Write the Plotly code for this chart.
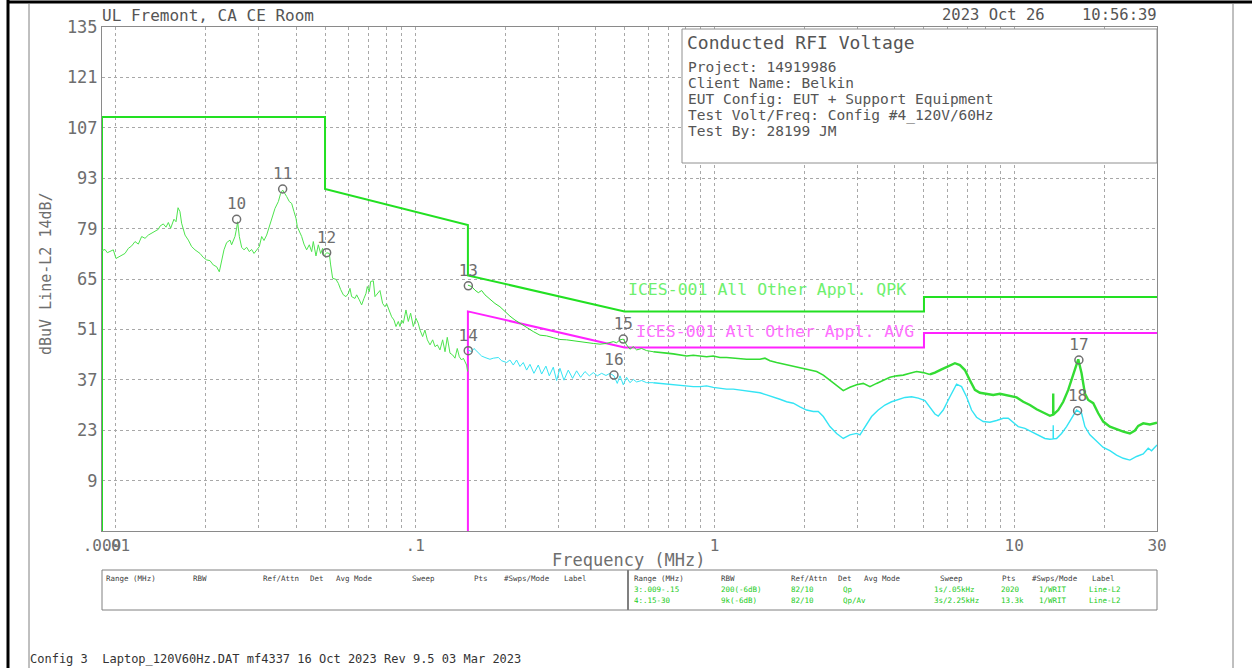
import plotly.graph_objects as go

# ------------------------------------------------------------------ data
# Range 3 scan, 0.009 - 0.15 MHz  (freq MHz, level dBuV)
range3_scan = [
    (0.009, 72.9), (0.00921, 73.2), (0.009376, 72.3), (0.009571, 72.6), (0.009818, 73.1),
    (0.010022, 70.7), (0.010335, 71.4), (0.01074, 72.1), (0.01102, 73.5), (0.01131, 74.2),
    (0.0116, 75.4), (0.0119, 74.7), (0.01221, 76.8), (0.01253, 76.3), (0.01285, 77.2),
    (0.01318, 77.7), (0.01353, 78.2), (0.01388, 78.8), (0.01406, 79.7), (0.01442, 80.3),
    (0.01472, 79.4), (0.01499, 80.7), (0.01526, 79.1), (0.01565, 81.6), (0.0159, 80.9),
    (0.01615, 84.8), (0.01639, 83.7), (0.0166, 80.5), (0.01704, 77.2), (0.01748, 75.8),
    (0.01793, 74.0), (0.0184, 73.1), (0.01912, 72.1), (0.01961, 71.0), (0.02012, 70.3),
    (0.02064, 70.1), (0.02118, 68.9), (0.02173, 68.4), (0.02218, 67.0), (0.02258, 69.8),
    (0.02299, 73.1), (0.02346, 75.1), (0.02408, 75.8), (0.02438, 74.5), (0.0247, 75.7),
    (0.02502, 76.8), (0.02534, 79.1), (0.02554, 80.9), (0.02587, 76.8), (0.02634, 73.8),
    (0.02681, 73.1), (0.02737, 73.8), (0.02794, 72.6), (0.02844, 73.2), (0.02896, 72.1),
    (0.02956, 72.9), (0.03017, 74.0), (0.03072, 76.8), (0.03127, 75.7), (0.03192, 77.2),
    (0.03258, 79.5), (0.03343, 82.3), (0.03403, 84.6), (0.03492, 86.5), (0.03555, 88.8),
    (0.0361, 89.7), (0.03675, 88.8), (0.03723, 87.9), (0.038, 86.5), (0.03869, 86.0),
    (0.03939, 83.7), (0.03999, 81.9), (0.04041, 79.5), (0.04104, 78.4), (0.04178, 76.8),
    (0.04253, 74.7), (0.04341, 73.1), (0.04431, 74.5), (0.04512, 72.6), (0.04569, 75.4),
    (0.04664, 71.4), (0.04748, 74.5), (0.04834, 72.1), (0.04909, 73.5), (0.04959, 71.4),
    (0.05062, 72.3), (0.05167, 72.1), (0.05221, 68.9), (0.05302, 65.2), (0.05439, 64.9),
    (0.05538, 63.8), (0.05638, 62.1), (0.05755, 60.6), (0.05874, 60.1), (0.05981, 61.0),
    (0.06057, 62.4), (0.06135, 60.1), (0.06294, 59.6), (0.06376, 60.6), (0.06508, 59.2),
    (0.06626, 57.8), (0.06746, 59.6), (0.06851, 61.0), (0.06921, 62.9), (0.07028, 61.5),
    (0.07102, 64.3), (0.07249, 64.5), (0.07341, 60.1), (0.07474, 61.0), (0.07629, 61.8),
    (0.07787, 58.2), (0.07928, 57.3), (0.08031, 58.1), (0.08197, 56.4), (0.08346, 54.5),
    (0.08497, 53.6), (0.08627, 51.8), (0.08783, 53.2), (0.08897, 51.8), (0.09013, 53.6),
    (0.09127, 52.7), (0.09316, 56.4), (0.09485, 53.2), (0.09657, 55.5), (0.09857, 51.8),
    (0.1006, 54.1), (0.1024, 52.7), (0.1038, 50.8), (0.1059, 49.0), (0.1078, 50.8),
    (0.1098, 48.1), (0.1121, 46.7), (0.1144, 48.1), (0.1165, 46.2), (0.1186, 46.7),
    (0.121, 45.3), (0.1235, 48.1), (0.1258, 44.8), (0.128, 48.8), (0.1307, 44.4),
    (0.1334, 43.9), (0.1358, 43.0), (0.1382, 45.7), (0.1404, 43.4), (0.1429, 42.5),
    (0.1448, 43.0), (0.1466, 42.0), (0.1485, 41.1), (0.1497, 39.3),
]

# Range 4 quasi-peak scan, 0.15 - 30 MHz
range4_qp = [
    (0.15, 63.3), (0.1544, 62.9), (0.1584, 61.9), (0.1625, 61.2), (0.1667, 61.8),
    (0.171, 60.6), (0.1777, 59.4), (0.1847, 58.2), (0.1919, 57.3), (0.1994, 55.9),
    (0.2072, 54.7), (0.2154, 53.6), (0.2238, 52.7), (0.2356, 51.6), (0.2479, 50.4),
    (0.261, 49.4), (0.2747, 49.2), (0.2892, 48.7), (0.3044, 48.2), (0.3204, 48.1),
    (0.3372, 47.8), (0.355, 47.6), (0.3738, 47.3), (0.3934, 47.1), (0.4141, 46.9),
    (0.4358, 47.1), (0.4587, 47.6), (0.4706, 47.3), (0.4829, 48.1), (0.4954, 48.3),
    (0.5082, 46.7), (0.5214, 45.5), (0.535, 46.2), (0.5488, 45.3), (0.5703, 45.7),
    (0.5927, 45.1), (0.6239, 44.8), (0.6566, 44.5), (0.6911, 44.4), (0.7275, 44.2),
    (0.7657, 43.9), (0.806, 43.6), (0.8484, 43.8), (0.8931, 43.6), (0.9401, 43.4),
    (0.9895, 43.6), (1.0415, 43.2), (1.0963, 43.2), (1.154, 43.0), (1.2146, 43.0),
    (1.2785, 42.7), (1.3458, 42.7), (1.4166, 42.7), (1.472, 43.0), (1.53, 42.3),
    (1.61, 41.8), (1.6947, 41.4), (1.7847, 41.1), (1.8783, 40.7), (1.9773, 40.2),
    (2.0808, 39.7), (2.1906, 39.3), (2.3058, 38.3), (2.4264, 36.9), (2.5542, 35.3),
    (2.6883, 34.0), (2.8296, 34.9), (2.979, 35.6), (3.1356, 36.0), (3.3003, 35.1),
    (3.4731, 36.0), (3.6558, 36.9), (3.8484, 37.7), (4.0509, 38.1), (4.2642, 38.3),
    (4.4883, 38.8), (4.7241, 39.3), (4.9725, 39.0), (5.2346, 38.5), (5.4392, 39.0),
    (5.725, 39.9), (6.0264, 40.8), (6.3423, 41.6), (6.5907, 41.1), (6.849, 39.7),
    (7.1172, 36.9), (7.3962, 34.2), (7.686, 33.4), (8.0901, 33.1), (8.5167, 32.8),
    (8.9658, 33.1), (9.3168, 32.8), (9.6822, 32.5), (10.191, 32.1), (10.726, 30.9),
    (11.291, 30.0), (11.885, 28.8), (12.509, 27.9), (13.167, 27.0), (13.5, 27.3),
    (13.509, 33.2), (13.52, 27.3), (14.038, 28.6), (14.588, 30.9), (15.16, 34.2),
    (15.754, 38.3), (16.371, 42.7), (16.797, 38.8), (17.233, 33.2), (17.681, 31.4),
    (18.374, 30.5), (19.094, 27.7), (19.841, 25.4), (20.885, 24.0), (21.983, 23.2),
    (23.14, 22.6), (24.357, 22.1), (25.312, 22.9), (25.969, 24.2), (26.987, 24.9),
    (28.403, 24.6), (30.0, 25.1),
]

# Range 4 average scan, 0.15 - 30 MHz
range4_av = [
    (0.15, 45.3), (0.1544, 44.8), (0.1572, 45.7), (0.1625, 44.4), (0.1667, 43.6),
    (0.171, 43.2), (0.1777, 42.7), (0.1823, 43.0), (0.1895, 43.2), (0.1944, 42.3),
    (0.202, 41.8), (0.2072, 42.5), (0.2126, 41.1), (0.2181, 42.5), (0.2238, 40.7),
    (0.2296, 41.8), (0.2356, 39.7), (0.2417, 41.3), (0.2492, 38.8), (0.2577, 41.1),
    (0.2644, 38.6), (0.2733, 40.8), (0.2804, 38.1), (0.2892, 40.5), (0.2967, 36.8),
    (0.3044, 40.2), (0.3139, 36.9), (0.3245, 39.7), (0.3355, 37.4), (0.346, 39.5),
    (0.3568, 37.7), (0.369, 39.3), (0.3815, 38.1), (0.3934, 39.0), (0.4057, 38.1),
    (0.4194, 38.8), (0.4336, 38.2), (0.4471, 38.8), (0.4611, 38.1), (0.473, 36.0),
    (0.4829, 38.1), (0.4954, 35.6), (0.5082, 37.7), (0.5214, 36.2), (0.535, 37.1),
    (0.5488, 36.4), (0.5703, 36.8), (0.5927, 36.2), (0.6239, 36.2), (0.6566, 36.0),
    (0.6911, 35.8), (0.7275, 35.6), (0.7657, 35.6), (0.806, 35.3), (0.8484, 35.1),
    (0.8931, 35.1), (0.9401, 35.3), (0.9895, 34.9), (1.0415, 34.6), (1.0963, 34.4),
    (1.154, 34.4), (1.2146, 34.2), (1.2785, 34.0), (1.3458, 33.7), (1.4166, 33.4),
    (1.491, 32.8), (1.5696, 32.3), (1.6515, 31.6), (1.7388, 30.9), (1.8306, 30.5),
    (1.9269, 29.5), (2.0286, 28.6), (2.1348, 28.2), (2.2185, 28.2), (2.3058, 26.8),
    (2.4264, 24.0), (2.5542, 22.1), (2.6883, 20.7), (2.8296, 21.7), (2.979, 22.1),
    (3.0564, 21.7), (3.1761, 24.0), (3.3426, 26.8), (3.5181, 28.6), (3.7035, 30.0),
    (3.8979, 30.9), (4.1031, 31.6), (4.3191, 32.1), (4.5459, 32.3), (4.7853, 31.9),
    (5.0364, 31.2), (5.2346, 29.5), (5.4392, 27.5), (5.58, 26.9), (5.7987, 28.6),
    (6.1038, 32.3), (6.4242, 35.8), (6.6762, 35.1), (6.9372, 32.3), (7.209, 28.6),
    (7.4916, 26.6), (7.8849, 25.4), (8.2998, 25.2), (8.7381, 25.7), (9.198, 26.3),
    (9.5589, 26.3), (9.9333, 25.1), (10.322, 24.0), (10.865, 23.5), (11.436, 22.6),
    (12.038, 21.7), (12.67, 20.7), (13.167, 20.5), (13.5, 20.6), (13.509, 24.4),
    (13.52, 20.6), (13.859, 20.7), (14.403, 22.1), (14.967, 24.0), (15.553, 26.3),
    (16.163, 28.6), (16.797, 27.7), (17.233, 24.0), (17.908, 21.7), (18.851, 19.8),
    (19.841, 18.2), (20.885, 17.3), (21.983, 16.1), (23.14, 15.2), (24.357, 14.7),
    (25.638, 15.7), (26.987, 16.4), (28.044, 18.0), (28.769, 17.3), (30.0, 18.9),
]

# ICES-001 limit lines
qpk_limit_freq = [0.009, 0.009, 0.05, 0.05, 0.15, 0.15, 0.5, 5, 5, 30]
qpk_limit_dbuv = [-5, 110, 110, 90, 80, 66, 56, 56, 60, 60]
avg_limit_freq = [0.15, 0.15, 0.5, 5, 5, 30]
avg_limit_dbuv = [-5, 56, 46, 46, 50, 50]

# Markers
marker_ids = ["10", "11", "12", "13", "14", "15", "16", "17", "18"]
marker_freq = [0.02534, 0.0361, 0.05062, 0.1505, 0.1504, 0.4954, 0.4611, 16.456, 16.29]
marker_dbuv = [81.6, 90.0, 72.3, 63.1, 45.1, 48.3, 38.3, 42.5, 28.4]

# Axis ticks
y_tick_vals = [-5, 9, 23, 37, 51, 65, 79, 93, 107, 121, 135]
y_tick_text = ["", "9", "23", "37", "51", "65", "79", "93", "107", "121", "135"]
x_tick_vals = [0.009, 0.01, 0.1, 1, 10, 30]
x_tick_text = [".009", ".01", ".1", "1", "10", "30"]
x_minor_vals = [m * d for d in (0.01, 0.1, 1) for m in range(2, 10)] + [20]

# Info / table text
info_title = "Conducted RFI Voltage"
info_lines = ["Project: 14919986", "Client Name: Belkin",
              "EUT Config: EUT + Support Equipment",
              "Test Volt/Freq: Config #4_120V/60Hz", "Test By: 28199 JM"]
table_headers = ["Range (MHz)", "RBW", "Ref/Attn", "Det", "Avg Mode", "Sweep", "Pts",
                 "#Swps/Mode", "Label"]
table_row3 = ["3:.009-.15", "200(-6dB)", "82/10", "Qp", "1s/.05kHz", "2020", "1/WRIT", "Line-L2"]
table_row4 = ["4:.15-30", "9k(-6dB)", "82/10", "Qp/Av", "3s/2.25kHz", "13.3k", "1/WRIT", "Line-L2"]

# ------------------------------------------------------------------ figure
W, H = 1252, 668
L, R, T, B = 102, 1157, 27, 531
MONO = "DejaVu Sans Mono"
GRAY = "#6e6e6e"


def px(x):
    return (x - L) / (R - L)


def py(y):
    return (B - y) / (B - T)


def unz(pairs):
    return [p[0] for p in pairs], [p[1] for p in pairs]


def split_at(pairs, cuts):
    """Split a scan into consecutive pieces at the given frequencies (shared end points)."""
    pieces, start = [], 0
    for c in cuts:
        k = next(i for i, p in enumerate(pairs) if p[0] >= c)
        pieces.append(pairs[start:k + 1])
        start = k
    pieces.append(pairs[start:])
    return pieces


fig = go.Figure()

# limit lines
fig.add_trace(go.Scatter(x=qpk_limit_freq, y=qpk_limit_dbuv, mode="lines",
                         line=dict(color="#22e022", width=2), hoverinfo="skip"))
fig.add_trace(go.Scatter(x=avg_limit_freq, y=avg_limit_dbuv, mode="lines",
                         line=dict(color="#ff22ff", width=2), hoverinfo="skip"))

# scans
f3, v3 = unz(range3_scan)
fig.add_trace(go.Scatter(x=f3, y=v3, mode="lines", line=dict(color="#4ee44e", width=1)))

for piece, w in zip(split_at(range4_av, [0.6]), [1, 1.4]):
    f, v = unz(piece)
    fig.add_trace(go.Scatter(x=f, y=v, mode="lines", line=dict(color="#34e4f4", width=w)))
for piece, w in zip(split_at(range4_qp, [0.6, 5.0]), [1, 1.6, 2.4]):
    f, v = unz(piece)
    fig.add_trace(go.Scatter(x=f, y=v, mode="lines", line=dict(color="#33dc33", width=w)))

# markers
fig.add_trace(go.Scatter(x=marker_freq, y=marker_dbuv, mode="markers+text",
                         text=marker_ids, textposition="top center",
                         textfont=dict(family=MONO, size=16, color=GRAY),
                         marker=dict(symbol="circle-open", size=8, color="#707070",
                                     line=dict(width=1.5, color="#707070"))))

shapes = []
# info box
shapes.append(dict(type="rect", xref="paper", yref="paper", x0=px(682), x1=px(1157),
                   y0=py(163), y1=py(29), fillcolor="white",
                   line=dict(color="#909090", width=1), layer="above"))
# table box + divider
shapes.append(dict(type="rect", xref="paper", yref="paper", x0=px(102), x1=px(1157),
                   y0=py(610), y1=py(570), line=dict(color="#808080", width=1)))
shapes.append(dict(type="line", xref="paper", yref="paper", x0=px(628), x1=px(628),
                   y0=py(610), y1=py(570), line=dict(color="#808080", width=2)))
# page frame
shapes.append(dict(type="line", xref="paper", yref="paper", x0=px(8), x1=px(8),
                   y0=py(668), y1=py(0), line=dict(color="black", width=3)))
shapes.append(dict(type="line", xref="paper", yref="paper", x0=px(8), x1=px(1252),
                   y0=py(2), y1=py(2), line=dict(color="black", width=3)))
shapes.append(dict(type="line", xref="paper", yref="paper", x0=px(29), x1=px(29),
                   y0=py(668), y1=py(3), line=dict(color="#808080", width=1)))
shapes.append(dict(type="line", xref="paper", yref="paper", x0=px(1233), x1=px(1233),
                   y0=py(668), y1=py(3), line=dict(color="#808080", width=1)))

ann = []


def text(x, y, s, size, color=GRAY, xanchor="left", angle=0):
    ann.append(dict(xref="paper", yref="paper", x=px(x), y=py(y), text=s,
                    showarrow=False, xanchor=xanchor, yanchor="middle", textangle=angle,
                    font=dict(family=MONO, size=size, color=color)))


text(100, 15, "UL Fremont, CA CE Room", 16, "#555555")
text(1159, 15, "2023 Oct 26\u00a0\u00a0\u00a0\u00a010:56:39", 15.5, "#555555", xanchor="right")
text(685, 42, info_title, 18, "#555555")
for i, s in enumerate(info_lines):
    text(686, 67 + 16 * i, s, 14.5, "#555555")
text(626, 290, "ICES-001 All Other Appl. QPK", 16.5, "#6ef06e")
text(634, 331, "ICES-001 All Other Appl. AVG", 16.5, "#ff70ff")
text(629, 560, "Frequency (MHz)", 17, GRAY, xanchor="center")
text(46, 274, "dBuV Line-L2 14dB/", 15, GRAY, xanchor="center", angle=-90)

hdr_off = [0, 87, 157, 204, 230, 306, 368, 398, 458]
row_off = [0, 87, 157, 209, 300, 367, 405, 455]
for base in (104, 632):
    for o, s in zip(hdr_off, table_headers):
        text(base + o, 578, s, 7.5, "#404040")
for o, s in zip(row_off, table_row3):
    text(632 + o, 589, s, 7.5, "#22cc22")
for o, s in zip(row_off, table_row4):
    text(632 + o, 600, s, 7.5, "#22cc22")
text(28, 659, "Config 3\u00a0\u00a0Laptop_120V60Hz.DAT mf4337 16 Oct 2023 Rev 9.5 03 Mar 2023",
     12, "#333333")

fig.update_layout(
    width=W, height=H, autosize=False,
    margin=dict(l=L, r=W - R, t=T, b=H - B, pad=0),
    paper_bgcolor="white", plot_bgcolor="white", showlegend=False,
    shapes=shapes, annotations=ann,
    font=dict(family=MONO, color=GRAY),
)
fig.update_xaxes(type="log", range=[-2.045757, 1.477121], tickvals=x_tick_vals,
                 ticktext=x_tick_text, tickangle=0, showgrid=True, gridcolor="#a8a8a8",
                 griddash="dot", gridwidth=1, showline=True, mirror=True,
                 linecolor="#8a8a8a", linewidth=1, ticks="",
                 tickfont=dict(family=MONO, size=16, color=GRAY), zeroline=False,
                 minor=dict(tickvals=x_minor_vals, showgrid=True, gridcolor="#a8a8a8",
                            griddash="dot", gridwidth=1, ticks=""))
fig.update_yaxes(range=[-5, 135], tickvals=y_tick_vals, ticktext=y_tick_text,
                 showgrid=True, gridcolor="#a8a8a8", griddash="dot", gridwidth=1,
                 showline=True, mirror=True, linecolor="#8a8a8a", linewidth=1, ticks="",
                 tickfont=dict(family=MONO, size=17, color=GRAY), zeroline=False)

fig.write_html("out.html", config={"displayModeBar": False},
               post_script="document.body.style.margin='0px';document.body.style.overflow='hidden';")
